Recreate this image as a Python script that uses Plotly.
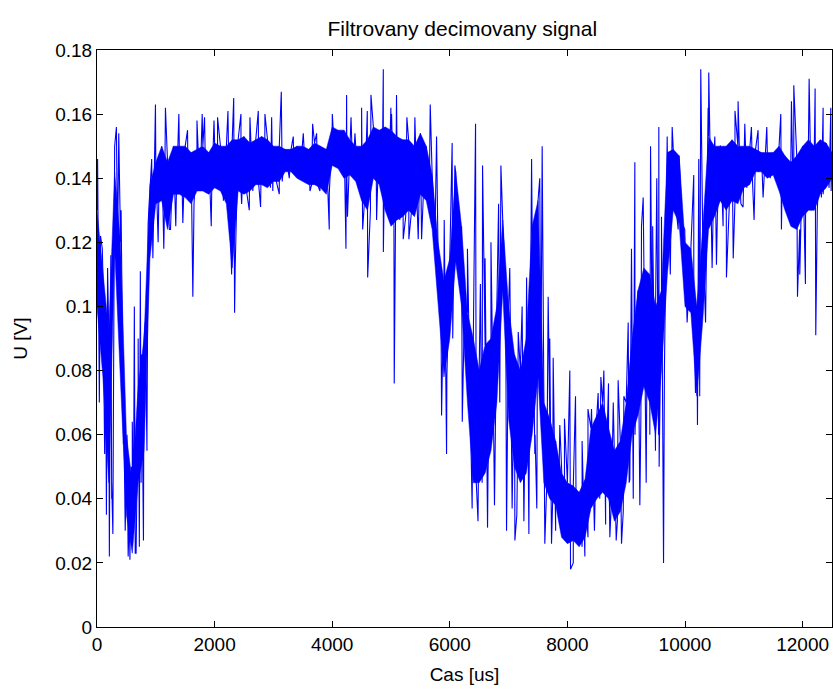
import plotly.graph_objects as go

# Core band of the signal, read every 100 us (upper / lower edge of the dense band)
core_t = list(range(0, 12600, 100))
core_hi = [0.130, 0.110, 0.092, 0.142, 0.120, 0.060, 0.045, 0.075, 0.090, 0.138,
           0.145, 0.150, 0.145, 0.150, 0.150, 0.150, 0.148, 0.149, 0.150, 0.148,
           0.151, 0.150, 0.150, 0.152, 0.152, 0.153, 0.151, 0.152, 0.153, 0.152,
           0.150, 0.150, 0.149, 0.149, 0.150, 0.150, 0.149, 0.151, 0.150, 0.149,
           0.156, 0.155, 0.155, 0.152, 0.150, 0.150, 0.152, 0.156, 0.155, 0.156,
           0.155, 0.153, 0.152, 0.152, 0.150, 0.154, 0.150, 0.141, 0.120, 0.108,
           0.115, 0.142, 0.125, 0.098, 0.090, 0.080, 0.088, 0.090, 0.100, 0.127,
           0.100, 0.085, 0.080, 0.090, 0.125, 0.133, 0.070, 0.065, 0.058, 0.048,
           0.045, 0.044, 0.042, 0.046, 0.062, 0.066, 0.070, 0.062, 0.055, 0.058,
           0.070, 0.090, 0.105, 0.112, 0.110, 0.100, 0.105, 0.148, 0.149, 0.147,
           0.120, 0.118, 0.100, 0.124, 0.153, 0.150, 0.150, 0.150, 0.152, 0.150,
           0.150, 0.150, 0.149, 0.148, 0.148, 0.148, 0.150, 0.147, 0.145, 0.147,
           0.150, 0.152, 0.150, 0.152, 0.151, 0.148]
core_lo = [0.100, 0.078, 0.045, 0.118, 0.075, 0.035, 0.023, 0.045, 0.055, 0.115,
           0.132, 0.133, 0.124, 0.135, 0.135, 0.134, 0.132, 0.136, 0.136, 0.135,
           0.137, 0.136, 0.132, 0.112, 0.136, 0.135, 0.136, 0.138, 0.138, 0.137,
           0.139, 0.139, 0.142, 0.142, 0.140, 0.139, 0.138, 0.138, 0.137, 0.135,
           0.144, 0.143, 0.140, 0.141, 0.139, 0.133, 0.130, 0.140, 0.138, 0.130,
           0.125, 0.127, 0.128, 0.130, 0.128, 0.135, 0.133, 0.124, 0.100, 0.078,
           0.090, 0.114, 0.100, 0.070, 0.045, 0.045, 0.048, 0.055, 0.070, 0.105,
           0.065, 0.050, 0.045, 0.048, 0.060, 0.078, 0.045, 0.040, 0.038, 0.028,
           0.026, 0.027, 0.025, 0.028, 0.037, 0.040, 0.042, 0.040, 0.033, 0.036,
           0.045, 0.060, 0.066, 0.075, 0.070, 0.060, 0.080, 0.110, 0.130, 0.126,
           0.100, 0.098, 0.072, 0.095, 0.124, 0.128, 0.133, 0.130, 0.133, 0.132,
           0.137, 0.138, 0.142, 0.142, 0.140, 0.141, 0.136, 0.130, 0.125, 0.124,
           0.128, 0.130, 0.130, 0.135, 0.137, 0.140]

# Isolated spikes (time in us, value in V)
spike_t = [10, 60, 130, 210, 235, 270, 330, 370, 450, 530, 560, 600, 635, 665, 737,
           790, 870, 930, 994, 1040, 1136, 1164, 1230, 1340, 1392, 1460, 1540, 1630,
           1700, 1789, 1829, 1943, 1990, 2050, 2150, 2227, 2290, 2325, 2340,
           2448, 2460, 2590, 2601, 2743, 2782, 2856, 2970, 2990, 3100, 3134, 3270,
           3338, 3508, 3622, 3667, 3735, 3792, 3950, 4002, 4234, 4245, 4260, 4320,
           4387, 4500, 4518, 4597, 4603, 4659, 4755, 4869, 4870,
           4998, 5010, 5055, 5094, 5208, 5270, 5304, 5406, 5463, 5520, 5667, 5775,
           5803, 5860, 5905, 5945, 6040, 6086, 6212, 6380, 6438, 6557, 6642, 6869,
           6965, 7107, 7164, 7306, 7345, 7391,
           7446, 7571, 7616, 7673, 7730, 7758, 7871, 8041, 8053, 8138, 8297, 8410,
           8523, 8569, 8699, 8722, 8863, 8920, 9034, 9062, 9147, 9232, 9289, 9402,
           9414, 9498, 9555, 9635, 9697, 9782, 9884,
           9996, 10036, 10149, 10178, 10212, 10234, 10268, 10393, 10404, 10461,
           10507, 10535, 10603, 10648, 10705, 10820, 10850, 10903, 10988, 11017,
           11130, 11175, 11243, 11328, 11391, 11629, 11640, 11810, 11850, 11913,
           11952, 12048, 12111, 12213, 12224, 12320, 12349, 12480, 12485,
           40, 90, 160, 180, 250, 300, 410, 480, 510, 580, 620, 700, 720, 760, 820, 850,
           6300, 6480, 6520, 6600, 6700, 6760, 6830, 7020, 7060, 7140, 7230, 7260,
           7480, 7530, 7700, 7800, 7950, 8100, 8250, 8350, 8460, 8620, 8650, 8780,
           8830, 8960, 9090, 9120, 9260, 9340, 9450, 9520, 9560, 9600]
spike_v = [0.146, 0.122, 0.054, 0.022, 0.116, 0.029, 0.156, 0.154, 0.057, 0.022, 0.021, 0.064, 0.100, 0.023, 0.111,
           0.027, 0.126, 0.146, 0.163, 0.120, 0.118, 0.162, 0.124, 0.125, 0.160, 0.126, 0.155, 0.103,
           0.158, 0.160, 0.159, 0.125, 0.158, 0.159, 0.133, 0.161, 0.110, 0.165, 0.098,
           0.160, 0.132, 0.130, 0.159, 0.161, 0.131, 0.160, 0.159, 0.136, 0.135, 0.167, 0.140,
           0.153, 0.154, 0.136, 0.157, 0.154, 0.136, 0.124, 0.160, 0.118, 0.166, 0.128, 0.159,
           0.154, 0.162, 0.124, 0.161, 0.109, 0.166, 0.127, 0.174, 0.117,
           0.162, 0.160, 0.076, 0.166, 0.121, 0.159, 0.121, 0.159, 0.121, 0.121, 0.163, 0.153,
           0.112, 0.066, 0.127, 0.054, 0.151, 0.144, 0.064, 0.037, 0.157, 0.144, 0.031, 0.144,
           0.030, 0.027, 0.092, 0.109, 0.029, 0.146,
           0.054, 0.150, 0.026, 0.103, 0.026, 0.084, 0.063, 0.080, 0.018, 0.072, 0.022, 0.068,
           0.073, 0.078, 0.076, 0.028, 0.077, 0.026, 0.095, 0.046, 0.145, 0.038, 0.134, 0.060,
           0.150, 0.055, 0.156, 0.020, 0.153, 0.156, 0.124,
           0.124, 0.095, 0.141, 0.073, 0.063, 0.146, 0.174, 0.162, 0.173, 0.112,
           0.153, 0.113, 0.150, 0.125, 0.109, 0.115, 0.161, 0.164, 0.131, 0.157,
           0.156, 0.127, 0.155, 0.134, 0.156, 0.160, 0.124, 0.164, 0.169, 0.103,
           0.110, 0.107, 0.171, 0.168, 0.091, 0.134, 0.162, 0.162, 0.136,
           0.070, 0.118, 0.035, 0.112, 0.040, 0.150, 0.130, 0.030, 0.060, 0.050, 0.035, 0.090, 0.025, 0.085, 0.095, 0.060,
           0.118, 0.033, 0.107, 0.115, 0.120, 0.038, 0.132, 0.112, 0.037, 0.035, 0.100, 0.033,
           0.037, 0.140, 0.090, 0.030, 0.065, 0.020, 0.058, 0.068, 0.030, 0.080, 0.032, 0.070,
           0.027, 0.072, 0.118, 0.040, 0.125, 0.045, 0.125, 0.140, 0.050, 0.128]

x_ticks = [0, 2000, 4000, 6000, 8000, 10000, 12000]
y_ticks = [0, 0.02, 0.04, 0.06, 0.08, 0.1, 0.12, 0.14, 0.16, 0.18]
y_labels = ["0", "0.02", "0.04", "0.06", "0.08", "0.1", "0.12", "0.14", "0.16", "0.18"]

BLUE = "#0000FF"

# Dense part of the trace (solid band between the read lower and upper edges)
fig = go.Figure()
fig.add_trace(go.Scatter(x=core_t + core_t[::-1], y=core_hi + core_lo[::-1],
                         mode="lines", fill="toself", fillcolor=BLUE,
                         line=dict(color=BLUE, width=0.5),
                         showlegend=False, hoverinfo="skip"))

# Full trace with the spikes
pts = []
for t, h, l in zip(core_t, core_hi, core_lo):
    pts.append((t, h))
    pts.append((t + 50, l))
pts += list(zip(spike_t, spike_v))
pts.sort()
xs = [p[0] for p in pts]
ys = [p[1] for p in pts]
fig.add_trace(go.Scatter(x=xs, y=ys, mode="lines",
                         line=dict(color=BLUE, width=1.1),
                         showlegend=False, hoverinfo="skip"))

FAM = "Liberation Sans, Arial, sans-serif"

fig.update_layout(
    width=833, height=689,
    margin=dict(l=97, r=1, t=50, b=62, autoexpand=False),
    paper_bgcolor="white", plot_bgcolor="white",
    font=dict(family=FAM, size=19, color="black"),
    title=dict(text="Filtrovany decimovany signal", x=0.555, xanchor="center",
               y=1 - 29 / 689, yanchor="middle", yref="container",
               font=dict(family=FAM, size=21, color="black")),
)
fig.update_xaxes(range=[0, 12500], tickvals=x_ticks, ticktext=[str(v) for v in x_ticks],
                 ticks="inside", ticklen=6, tickcolor="black", showline=True,
                 linecolor="black", linewidth=1, mirror="ticks", showgrid=False,
                 zeroline=False,
                 title=dict(text="Cas [us]", standoff=13, font=dict(family=FAM, size=19)))
fig.update_yaxes(range=[0, 0.18], tickvals=y_ticks, ticktext=y_labels,
                 ticks="inside", ticklen=6, tickcolor="black", showline=True,
                 linecolor="black", linewidth=1, mirror="ticks", showgrid=False,
                 zeroline=False,
                 title=dict(text="U [V]", standoff=22, font=dict(family=FAM, size=19)))

fig.write_html("out.html")
